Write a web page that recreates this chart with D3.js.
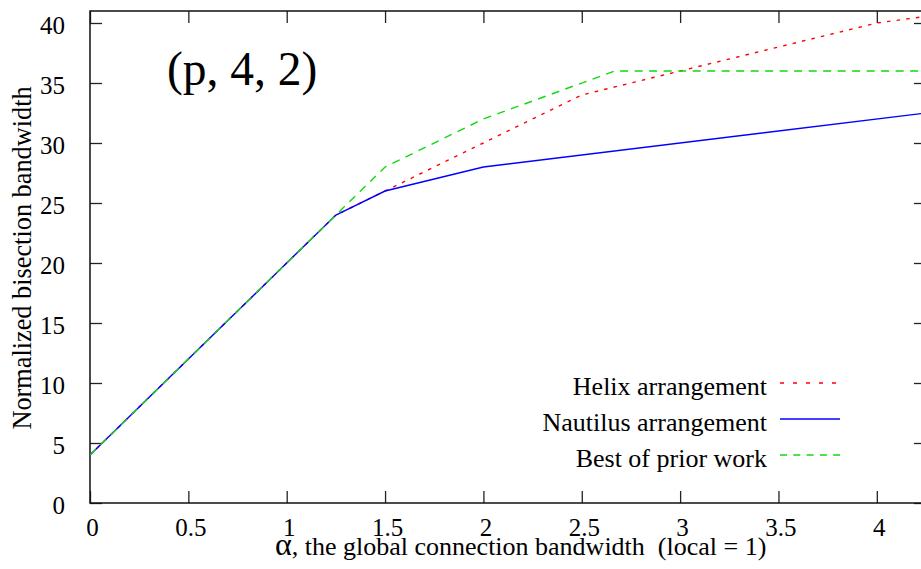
<!DOCTYPE html>
<html>
<head>
<meta charset="utf-8">
<script src="https://cdn.jsdelivr.net/npm/d3@7"></script>
<style>
  body { margin: 0; background: #fff; }
  svg text { font-family: "Liberation Serif", "Times New Roman", serif; fill: #000; }
</style>
</head>
<body>
<div id="chart"></div>
<script>
// data
const helixX = [0, 1.25, 1.5, 2, 2.5, 3, 4, 4.25];
const helixY = [4, 24, 26, 30, 34, 36, 40, 40.55];
const nautilusX = [0, 1.25, 1.5, 2, 4.25];
const nautilusY = [4, 24, 26, 28, 32.5];
const priorX = [0, 1.25, 1.5, 2, 2.667, 4.25];
const priorY = [4, 24, 28, 32, 36, 36];

const xTicks = [0, 0.5, 1, 1.5, 2, 2.5, 3, 3.5, 4];
const yTicks = [0, 5, 10, 15, 20, 25, 30, 35, 40];
const seriesNames = ["Helix arrangement", "Nautilus arrangement", "Best of prior work"];

// layout
const W = 921, H = 569;
const margin = { top: 11, left: 90, bottom: 66, right: -5 };
const width = W - margin.left - margin.right,
  height = H - margin.top - margin.bottom;

const svg = d3.select("#chart")
  .append("svg")
  .attr("width", W)
  .attr("height", H);

const g = svg.append("g")
  .attr("transform", `translate(${margin.left}, ${margin.top})`);

let x = d3.scaleLinear().domain([0, 4.25]).range([0, width]);
let y = d3.scaleLinear().domain([0, 41]).range([height, 0]);

const tickLen = 12;

// ticks (inward, mirrored on all sides)
g.append("g")
  .attr("transform", `translate(0, ${height})`)
  .call(d3.axisBottom(x).tickValues(xTicks).tickSize(-tickLen).tickPadding(33).tickFormat(d3.format("")))
  .call(a => a.select(".domain").remove())
  .call(a => a.selectAll("text").attr("dx", 2).style("font-size", "25px").attr("dy", 0));
g.append("g")
  .call(d3.axisTop(x).tickValues(xTicks).tickSize(-tickLen).tickFormat(""))
  .call(a => a.select(".domain").remove());
g.append("g")
  .call(d3.axisLeft(y).tickValues(yTicks).tickSize(-tickLen).tickPadding(tickLen + 13))
  .call(a => a.select(".domain").remove())
  .call(a => a.selectAll("text").attr("dy", 10.5).style("font-size", "25px"));
g.append("g")
  .attr("transform", `translate(${width}, 0)`)
  .call(d3.axisRight(y).tickValues(yTicks).tickSize(-tickLen).tickFormat(""))
  .call(a => a.select(".domain").remove());

g.selectAll(".tick line").attr("stroke", "#222").attr("stroke-width", 1.3);

// border
g.append("rect")
  .attr("x", 0).attr("y", 0)
  .attr("width", width).attr("height", height)
  .attr("fill", "none")
  .attr("stroke", "#111")
  .attr("stroke-width", 1.5);

// clip
svg.append("clipPath").attr("id", "clip")
  .append("rect").attr("x", 0).attr("y", 0).attr("width", width).attr("height", height);

const series = [
  { name: seriesNames[0], xs: helixX, ys: helixY, color: "#ff0000", dash: "3.5,6.2", legDash: "4,9" },
  { name: seriesNames[1], xs: nautilusX, ys: nautilusY, color: "#0000ff", dash: null, legDash: null },
  { name: seriesNames[2], xs: priorX, ys: priorY, color: "#11d811", dash: "8,6.5", legDash: "7,6.3" }
];

const line = d3.line()
  .x(d => x(d[0]))
  .y(d => y(d[1]));

g.append("g").attr("clip-path", "url(#clip)")
  .selectAll("path")
  .data(series)
  .join("path")
  .attr("d", s => line(d3.zip(s.xs, s.ys)))
  .attr("fill", "none")
  .attr("stroke", s => s.color)
  .attr("stroke-width", 1.4)
  .attr("stroke-dasharray", s => s.dash);

// legend
const leg = svg.append("g");
series.forEach(function (s, i) {
  let by = 395 + i * 36;
  leg.append("text")
    .attr("x", 767)
    .attr("y", by)
    .attr("text-anchor", "end")
    .style("font-size", "26px")
    .text(s.name);
  leg.append("line")
    .attr("x1", 780).attr("x2", 840)
    .attr("y1", by - 12).attr("y2", by - 12)
    .attr("stroke", s.color)
    .attr("stroke-width", 1.4)
    .attr("stroke-dasharray", s.legDash);
});

// annotation
svg.append("text")
  .attr("x", 167)
  .attr("y", 85)
  .style("font-size", "47.5px")
  .text("(p, 4, 2)");

// axis titles
svg.append("text")
  .attr("transform", "translate(31, 258) rotate(-90)")
  .attr("text-anchor", "middle")
  .style("font-size", "26.3px")
  .text("Normalized bisection bandwidth");

const xt = svg.append("text")
  .attr("x", 275)
  .attr("y", 555)
  .style("font-size", "26px")
  .style("white-space", "pre");
xt.append("tspan").style("font-size", "32px").text("α");
xt.append("tspan").text(", the global connection bandwidth  (local = 1)");
</script>
</body>
</html>
